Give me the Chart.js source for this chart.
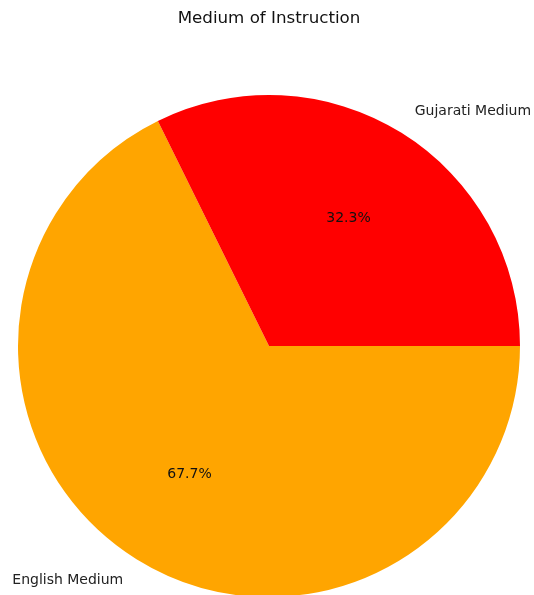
<!DOCTYPE html>
<html lang="en">
<head>
    <meta charset="UTF-8" />
    <title>Medium of Instruction</title>
    <script src="https://cdn.jsdelivr.net/npm/chart.js"></script>
    <style>
        * { margin: 0; padding: 0; box-sizing: border-box; }
        body { background: #ffffff; width: 534px; height: 595px; overflow: hidden; }
        #wrap { position: relative; width: 534px; height: 595px; overflow: hidden; }
    </style>
</head>
<body>
    <!-- canvas runs a few px past the bottom edge: the pie is clipped slightly there -->
    <div id="wrap"><canvas id="pieChart" width="534" height="600"></canvas></div>

    <script>
        // slices in clockwise order, starting from 3 o'clock
        const labels = ['English Medium', 'Gujarati Medium'];
        const shares = [67.7, 32.3];
        const colors = ['#ffa500', '#ff0000'];

        const FONT = '"DejaVu Sans", sans-serif';

        // outer labels at 1.1 r and percentages at 0.6 r, like a classic pie plot
        const sliceLabels = {
            id: 'sliceLabels',
            afterDatasetsDraw(chart) {
                const ctx = chart.ctx;
                const arcs = chart.getDatasetMeta(0).data;
                ctx.save();
                arcs.forEach((arc, i) => {
                    const mid = (arc.startAngle + arc.endAngle) / 2;
                    const r = arc.outerRadius;
                    const cos = Math.cos(mid), sin = Math.sin(mid);

                    ctx.fillStyle = '#222';
                    ctx.font = '14px ' + FONT;
                    ctx.textBaseline = 'middle';
                    ctx.textAlign = cos >= 0 ? 'left' : 'right';
                    ctx.fillText(labels[i], arc.x + cos * r * 1.1, arc.y + sin * r * 1.1);

                    ctx.fillStyle = '#111';
                    ctx.textAlign = 'center';
                    ctx.fillText(shares[i].toFixed(1) + '%', arc.x + cos * r * 0.6, arc.y + sin * r * 0.6);
                });

                ctx.fillStyle = '#111';
                ctx.font = '16.7px ' + FONT;
                ctx.textAlign = 'center';
                ctx.fillText('Medium of Instruction', 269, 19);
                ctx.restore();
            }
        };

        new Chart(document.getElementById('pieChart').getContext('2d'), {
            type: 'pie',
            data: {
                labels: labels,
                datasets: [{
                    data: shares,
                    backgroundColor: colors,
                    borderWidth: 0,
                    hoverOffset: 0
                }]
            },
            options: {
                responsive: false,
                animation: false,
                rotation: 90,
                layout: { padding: { left: 18, right: 14, top: 95, bottom: 3 } },
                plugins: {
                    legend: { display: false },
                    title: { display: false },
                    tooltip: { enabled: false }
                }
            },
            plugins: [sliceLabels]
        });
    </script>
</body>
</html>
